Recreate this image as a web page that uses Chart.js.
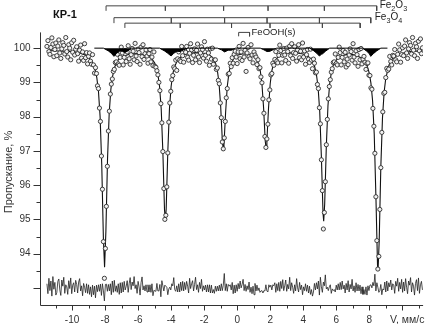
<!DOCTYPE html>
<html>
<head>
<meta charset="utf-8">
<script src="https://cdn.jsdelivr.net/npm/chart.js@4.4.1/dist/chart.umd.min.js"></script>
<style>
  html, body { margin: 0; padding: 0; background: #fff; }
  #wrap { width: 428px; height: 324px; position: relative; }
</style>
</head>
<body>
<div id="wrap"><canvas id="spectrum"></canvas></div>
<script>
// Channel calibration of the spectrometer (mm/s)
const velStart = -11.52;
const velStep = 0.06;

// Measured transmission, %, one value per channel
const transmission = [
  100.05, 100.22, 99.90, 99.82, 100.02, 100.30, 100.12, 99.75, 99.96, 100.15,
  99.78, 100.06, 100.24, 99.86, 99.70, 99.98, 100.16, 100.08, 99.83, 100.31,
  99.90, 99.74, 100.10, 100.00, 99.66, 100.16, 99.88, 100.23, 99.80, 99.97,
  100.04, 99.84, 99.62, 99.94, 100.09, 99.71, 99.89, 99.64, 100.13, 99.72,
  99.87, 99.54, 99.76, 99.86, 99.62, 99.53, 99.81, 99.51, 99.27, 99.43,
  99.26, 98.90, 98.82, 98.25, 97.86, 96.85, 95.88, 94.35, 93.28, 94.15,
  95.38, 96.55, 97.58, 98.16, 98.66, 98.95, 99.10, 99.32, 99.38, 99.58,
  99.60, 99.82, 99.54, 99.50, 99.73, 100.03, 99.86, 99.51, 99.73, 99.93,
  99.61, 99.89, 100.07, 99.69, 99.53, 99.81, 99.99, 99.91, 99.66, 100.14,
  99.77, 99.61, 99.97, 99.87, 99.53, 100.03, 99.75, 100.10, 99.67, 99.84,
  99.95, 99.77, 99.56, 99.84, 99.96, 99.60, 99.74, 99.49, 99.89, 99.47,
  99.44, 99.34, 99.22, 99.00, 98.76, 98.38, 97.82, 96.98, 95.90, 95.00,
  95.12, 95.95, 96.94, 97.84, 98.40, 98.74, 99.08, 99.20, 99.45, 99.40,
  99.65, 99.35, 99.69, 99.89, 99.65, 99.61, 100.05, 99.78, 99.59, 99.94,
  99.88, 100.05, 99.73, 99.65, 99.85, 100.13, 99.95, 99.58, 99.79, 99.98,
  99.66, 99.94, 100.12, 99.74, 99.58, 99.86, 100.04, 99.96, 99.71, 100.19,
  99.79, 99.62, 99.97, 99.86, 99.50, 99.98, 99.68, 100.00, 99.53, 99.65,
  99.66, 99.38, 99.42, 99.06, 98.96, 98.40, 97.97, 97.26, 97.06, 97.38,
  97.86, 98.55, 98.82, 99.24, 99.26, 99.56, 99.46, 99.72, 99.56, 99.82,
  99.91, 99.74, 99.55, 99.89, 100.05, 99.69, 99.89, 99.64, 100.14, 99.74,
  99.94, 99.32, 99.86, 100.02, 99.75, 99.69, 100.10, 99.80, 99.57, 99.89,
  99.80, 99.74, 99.52, 99.66, 99.40, 99.43, 99.16, 98.99, 98.52, 98.10,
  97.42, 97.10, 97.35, 97.78, 98.49, 98.78, 99.22, 99.26, 99.56, 99.50,
  99.67, 99.90, 99.62, 99.57, 99.79, 100.09, 99.93, 99.57, 99.79, 99.99,
  99.80, 99.64, 100.00, 99.90, 99.56, 100.06, 99.78, 100.13, 99.70, 99.87,
  100.04, 99.85, 99.62, 99.95, 100.10, 99.72, 99.91, 99.66, 100.15, 99.74,
  99.92, 99.53, 99.81, 99.96, 99.68, 99.58, 99.97, 99.65, 99.40, 99.68,
  99.56, 99.28, 99.30, 98.94, 98.82, 98.26, 97.79, 96.74, 95.84, 94.72,
  95.20, 96.10, 97.18, 97.92, 98.52, 98.88, 99.08, 99.30, 99.40, 99.58,
  99.60, 99.83, 99.55, 99.51, 99.73, 100.03, 99.87, 99.51, 99.73, 99.93,
  99.60, 99.88, 99.45, 99.68, 99.52, 99.80, 99.98, 99.90, 99.65, 100.13,
  99.74, 99.57, 99.92, 99.81, 99.47, 99.96, 99.66, 99.99, 99.54, 99.68,
  99.76, 99.59, 99.38, 99.55, 99.57, 99.21, 99.20, 98.84, 98.80, 98.24,
  97.72, 96.93, 95.66, 94.38, 93.55, 93.92, 95.29, 96.51, 97.54, 98.14,
  98.68, 98.71, 99.14, 99.41, 99.35, 99.39, 99.76, 99.61, 99.51, 99.79,
  99.77, 99.96, 99.66, 99.60, 99.82, 100.12, 99.95, 99.59, 99.81, 100.01,
  99.78, 100.06, 100.24, 99.86, 99.70, 99.98, 100.16, 100.08, 99.83, 100.31,
  99.94, 99.78, 100.14, 100.04, 99.70, 100.20, 99.92, 100.27, 99.84, 100.01
];

// Residual (measured - fit), %, one value per channel
const residual = [
  0.12, -0.17, 0.28, -0.08, 0.20, -0.24, 0.33, -0.04, 0.16, -0.21,
  -0.13, 0.19, 0.26, -0.06, -0.22, 0.23, 0.05, 0.31, -0.16, 0.09,
  0.03, -0.19, 0.21, -0.02, 0.29, -0.17, 0.08, 0.15, -0.12, 0.22,
  0.10, -0.15, 0.17, 0.27, -0.09, 0.06, -0.23, 0.13, 0.02, -0.14,
  0.12, -0.16, 0.09, -0.19, 0.03, -0.26, 0.08, -0.20, 0.05, -0.29,
  0.08, -0.11, 0.09, -0.10, 0.11, -0.22, 0.12, -0.09, -0.38, 0.10,
  0.11, -0.10, 0.10, -0.09, 0.12, -0.20, 0.20, -0.13, 0.22, -0.10,
  0.06, -0.13, 0.12, -0.19, 0.15, -0.15, 0.16, -0.12, 0.19, -0.06,
  0.05, 0.21, -0.13, 0.12, 0.30, -0.05, 0.17, 0.06, 0.33, -0.02,
  0.09, -0.16, 0.19, 0.03, -0.21, 0.15, 0.32, -0.06, 0.06, -0.09,
  0.09, -0.12, 0.09, -0.12, 0.09, -0.13, 0.12, -0.23, -0.07, -0.09,
  -0.10, 0.13, -0.09, -0.09, 0.10, -0.26, 0.21, 0.06, -0.09, 0.08,
  0.05, 0.02, -0.20, -0.03, 0.02, -0.06, 0.12, 0.06, 0.30, -0.05,
  -0.10, 0.06, -0.12, 0.12, -0.12, 0.17, -0.08, 0.19, -0.09, 0.16,
  -0.05, 0.19, 0.05, -0.15, 0.28, -0.02, 0.12, 0.21, -0.09, 0.10,
  0.31, -0.05, 0.09, -0.13, 0.16, -0.02, 0.25, -0.10, 0.06, -0.06,
  0.08, -0.12, 0.09, -0.12, 0.09, -0.15, 0.08, -0.15, -0.05, -0.16,
  0.05, -0.10, 0.05, -0.09, 0.08, -0.09, 0.12, -0.08, 0.08, 0.42,
  -0.08, 0.12, -0.10, 0.10, 0.05, 0.09, -0.06, 0.16, -0.17, 0.08,
  -0.15, 0.09, -0.10, 0.13, -0.03, 0.20, 0.00, 0.10, 0.25, -0.08,
  0.10, -0.10, 0.06, -0.05, 0.17, -0.13, 0.02, -0.17, 0.05, -0.20,
  0.13, -0.09, 0.08, -0.08, 0.00, -0.13, -0.09, -0.08, -0.15, -0.08,
  -0.09, 0.09, -0.09, -0.12, 0.09, 0.02, 0.08, -0.06, 0.09, 0.06,
  0.15, -0.13, 0.12, -0.08, 0.16, -0.10, 0.19, -0.02, 0.24, -0.08,
  0.06, 0.23, -0.10, 0.10, -0.03, 0.31, -0.08, 0.15, 0.02, -0.16,
  0.09, -0.09, 0.27, 0.00, -0.12, 0.16, -0.05, 0.08, -0.20, 0.03,
  -0.08, 0.12, -0.10, 0.08, -0.15, 0.05, -0.19, -0.05, -0.24, -0.12,
  0.13, -0.06, 0.15, -0.03, 0.20, -0.21, 0.31, 0.03, -0.13, 0.17,
  0.06, 0.38, -0.03, 0.02, -0.08, 0.03, 0.09, -0.16, -0.03, -0.08,
  -0.05, -0.12, 0.08, -0.06, 0.12, -0.06, 0.16, -0.05, 0.20, -0.03,
  0.08, -0.15, 0.13, -0.06, 0.21, -0.12, 0.10, -0.03, 0.25, -0.09,
  0.06, -0.13, 0.15, -0.09, 0.10, -0.09, 0.08, -0.17, 0.03, -0.19,
  -0.05, -0.19, 0.03, -0.21, 0.06, -0.08, 0.08, 0.09, 0.00, 0.16,
  0.06, 0.40, -0.09, 0.15, 0.02, -0.13, -0.08, 0.10, -0.20, -0.03,
  -0.06, 0.17, -0.12, 0.20, -0.09, 0.15, 0.03, 0.23, -0.06, 0.12,
  0.08, -0.16, 0.19, 0.05, 0.28, -0.10, 0.16, -0.03, 0.25, -0.13,
  0.17, -0.09, 0.27, 0.02, -0.17, 0.20, 0.08, 0.30, -0.12, 0.15,
  0.05, -0.21, 0.13, 0.24, -0.08, 0.29, -0.16, 0.09, 0.19, -0.06
];

// Fitted envelope
const fitVel = [
  -11.52, -10.5, -10.0, -9.5, -9.2, -9.0, -8.8, -8.6, -8.5, -8.4, -8.3, -8.2, -8.1, -8.03, -7.95,
  -7.85, -7.75, -7.65, -7.55, -7.4, -7.2, -7.0, -6.5, -6.0, -5.5, -5.2, -5.0, -4.9, -4.8, -4.7,
  -4.6, -4.5, -4.4, -4.35, -4.3, -4.2, -4.1, -4.0, -3.9, -3.8, -3.6, -3.3, -3.0, -2.5, -2.0,
  -1.7, -1.5, -1.4, -1.3, -1.2, -1.1, -1.0, -0.9, -0.84, -0.8, -0.7, -0.6, -0.5, -0.4, -0.2,
  0.0, 0.3, 0.6, 0.9, 1.1, 1.2, 1.3, 1.4, 1.5, 1.6, 1.7, 1.75, 1.8, 1.9, 2.0,
  2.1, 2.2, 2.4, 2.7, 3.0, 3.5, 4.0, 4.3, 4.5, 4.6, 4.7, 4.8, 4.9, 5.0, 5.1,
  5.2, 5.24, 5.3, 5.4, 5.5, 5.6, 5.7, 5.8, 6.0, 6.3, 6.6, 7.0, 7.3, 7.6, 7.8,
  7.9, 8.0, 8.1, 8.2, 8.3, 8.4, 8.5, 8.53, 8.6, 8.7, 8.8, 8.9, 9.0, 9.2, 9.4,
  9.7, 10.0, 10.5, 11.0, 11.22
];
const fitTrans = [
  99.93, 99.91, 99.90, 99.85, 99.80, 99.74, 99.62, 99.37, 99.14, 98.74, 98.00, 96.59, 94.43, 93.60, 94.65,
  96.77, 98.09, 98.79, 99.17, 99.47, 99.66, 99.74, 99.83, 99.84, 99.80, 99.71, 99.57, 99.45, 99.24, 98.88,
  98.23, 96.98, 95.29, 94.95, 95.29, 96.98, 98.23, 98.88, 99.24, 99.45, 99.66, 99.79, 99.84, 99.87, 99.85,
  99.81, 99.73, 99.66, 99.55, 99.35, 98.99, 98.31, 97.32, 97.03, 97.17, 98.12, 98.88, 99.27, 99.50, 99.71,
  99.79, 99.83, 99.83, 99.79, 99.72, 99.65, 99.54, 99.34, 98.96, 98.26, 97.29, 97.08, 97.29, 98.26, 98.96,
  99.34, 99.54, 99.70, 99.82, 99.86, 99.87, 99.83, 99.76, 99.66, 99.57, 99.45, 99.23, 98.86, 98.15, 96.83,
  95.18, 94.95, 95.45, 97.15, 98.33, 98.95, 99.28, 99.48, 99.65, 99.77, 99.81, 99.81, 99.77, 99.69, 99.56,
  99.44, 99.27, 98.98, 98.47, 97.50, 95.71, 93.67, 93.50, 94.35, 96.54, 97.96, 98.72, 99.12, 99.52, 99.69,
  99.80, 99.85, 99.90, 99.92, 99.92
];

// Filled minor (Fe3O4) component
const compVel = [
  -8.65, -8.1, -7.8, -7.62, -7.46, -7.3, -7.1, -6.95, -6.8, -6.65, -6.4, -4.7, -4.4, -4.2, -4.0, -3.84,
  -3.65, -3.45, -3.25, -3.0, -1.2, -0.95, -0.76, -0.55, -0.34, -0.1, 1.4, 1.62, 1.81, 1.99, 2.2, 2.4,
  4.4, 4.65, 4.82, 4.98, 5.1, 5.16, 5.35, 5.6, 7.6, 7.85, 8.0, 8.09, 8.25, 8.45, 8.7, 9.1
];
const compTrans = [
  100, 100, 99.92, 99.85, 99.76, 99.85, 99.92, 99.91, 99.88, 99.91, 100, 100, 99.92, 99.85, 99.77, 99.85,
  99.91, 99.90, 99.95, 100, 100, 99.95, 99.89, 99.94, 99.94, 100, 100, 99.95, 99.90, 99.91, 99.96, 100,
  100, 99.92, 99.85, 99.77, 99.82, 99.83, 99.91, 100, 100, 99.91, 99.84, 99.76, 99.84, 99.92, 100, 100
];

// Line positions of the stick diagrams (mm/s)
const fe2o3Lines = [-7.94, -4.35, -0.82, 1.87, 5.28, 8.45];
const fe3o4ALines = [-7.46, -3.99, -0.76, 1.81, 4.98, 8.09];
const fe3o4BLines = [-6.80, -3.45, -0.34, 1.99, 5.16, 7.45];
const feoohLines = [0.09, 0.75];

// Axis labels
const xTickLabels = [-10, -8, -6, -4, -2, 0, 2, 4, 6, 8];
const yTickLabels = [94, 95, 96, 97, 98, 99, 100];

const residBase = 93.0;
const yAxisTop = 100.46;
const FONT = '"Liberation Sans", Arial, sans-serif';

const expPts = transmission.map((t, i) => ({ x: velStart + i * velStep, y: t }));
const residPts = residual.map((r, i) => ({ x: velStart + i * velStep, y: residBase + r }));
const fitPts = fitVel.map((v, i) => ({ x: v, y: fitTrans[i] }));
const compPts = compVel.map((v, i) => ({ x: v, y: compTrans[i] }));

// comb shaped path for a stick diagram row
function comb(lines, top, bottom) {
    const pts = [];
    lines.forEach((v, i) => {
        if (i === 0) pts.push({ x: v, y: bottom });
        pts.push({ x: v, y: top });
        if (i > 0) {
            pts.push({ x: v, y: bottom });
            if (i < lines.length - 1) pts.push({ x: v, y: top });
        }
    });
    return pts;
}

function stickSet(pts) {
    return {
        data: pts, borderColor: '#444', borderWidth: 1, pointRadius: 0,
        fill: false, tension: 0
    };
}

// formula text with numeric subscripts
function drawFormula(ctx, text, x, y, size) {
    let cx = x;
    for (const ch of text) {
        const sub = /[0-9]/.test(ch);
        ctx.font = (sub ? size * 0.72 : size) + 'px ' + FONT;
        ctx.fillText(ch, cx, sub ? y + 2.5 : y);
        cx += ctx.measureText(ch).width;
    }
}

const axesPlugin = {
    id: 'axesPlugin',
    afterDraw(chart) {
        const { ctx, chartArea, scales: { x, y } } = chart;
        ctx.save();
        ctx.strokeStyle = '#333';
        ctx.lineWidth = 1;
        const ax = Math.round(chartArea.left) + 0.5;
        const ay = Math.round(chartArea.bottom) + 0.5;

        ctx.beginPath();
        ctx.moveTo(ax, y.getPixelForValue(yAxisTop));
        ctx.lineTo(ax, ay);
        ctx.lineTo(chartArea.right, ay);
        // y ticks
        for (let v = 93; v <= 100.001; v += 0.5) {
            const py = Math.round(y.getPixelForValue(v)) + 0.5;
            const len = Number.isInteger(v) ? 7 : 4;
            ctx.moveTo(ax - len, py);
            ctx.lineTo(ax, py);
        }
        // x ticks
        for (let v = -11; v <= 11; v += 1) {
            const px = Math.round(x.getPixelForValue(v)) + 0.5;
            const len = v % 2 === 0 ? 5 : 3;
            ctx.moveTo(px, ay);
            ctx.lineTo(px, ay + len);
        }
        ctx.stroke();

        ctx.fillStyle = '#333';
        ctx.font = '10px ' + FONT;
        ctx.textAlign = 'right';
        ctx.textBaseline = 'middle';
        yTickLabels.forEach(v => ctx.fillText(String(v), ax - 10, y.getPixelForValue(v)));

        ctx.textAlign = 'center';
        ctx.textBaseline = 'alphabetic';
        xTickLabels.forEach(v => {
            const s = v < 0 ? '-' + Math.abs(v) : String(v);
            ctx.fillText(s, x.getPixelForValue(v), 323);
        });
        ctx.textAlign = 'left';
        ctx.font = '10.5px ' + FONT;
        ctx.fillText('V, мм/с', 390, 323);

        // y axis title
        ctx.save();
        ctx.translate(9, 172);
        ctx.rotate(-Math.PI / 2);
        ctx.textAlign = 'center';
        ctx.textBaseline = 'middle';
        ctx.font = '11px ' + FONT;
        ctx.fillText('Пропускание, %', 0, 0);
        ctx.restore();

        // sample name
        ctx.fillStyle = '#111';
        ctx.textAlign = 'left';
        ctx.font = 'bold 11px ' + FONT;
        ctx.fillText('КР-1', 53, 18);

        // phase labels
        ctx.fillStyle = '#222';
        drawFormula(ctx, 'Fe2O3', x.getPixelForValue(fe2o3Lines[5]) + 3, 8, 10);
        drawFormula(ctx, 'Fe3O4', x.getPixelForValue(fe3o4ALines[5]) + 4, 20, 10);
        ctx.font = '9.5px ' + FONT;
        ctx.fillText('FeOOH(s)', x.getPixelForValue(feoohLines[1]) + 2, 35);
        ctx.restore();
    }
};

new Chart(document.getElementById('spectrum'), {
    type: 'line',
    data: {
        datasets: [
            {
                data: compPts, borderColor: '#000', borderWidth: 1, backgroundColor: '#000',
                fill: { value: 100 }, pointRadius: 0, tension: 0
            },
            {
                data: expPts, showLine: false, pointRadius: 2.1, pointBorderWidth: 0.9,
                pointBorderColor: '#2e2e2e', pointBackgroundColor: '#f2f2f2'
            },
            {
                data: fitPts, borderColor: '#111', borderWidth: 1.1, pointRadius: 0, tension: 0
            },
            {
                data: residPts, borderColor: '#222', borderWidth: 0.8, pointRadius: 0, tension: 0
            },
            stickSet(comb(fe2o3Lines, 101.235, 101.09)),
            stickSet(comb(fe3o4ALines, 100.89, 100.73)),
            stickSet(comb(fe3o4BLines, 100.73, 100.59)),
            stickSet(comb(feoohLines, 100.46, 100.345))
        ]
    },
    options: {
        responsive: true,
        maintainAspectRatio: false,
        animation: false,
        devicePixelRatio: 1,
        layout: { padding: { left: 40, right: 0, top: 0, bottom: 19 } },
        plugins: { legend: { display: false }, tooltip: { enabled: false } },
        scales: {
            x: { type: 'linear', min: -11.94, max: 11.26, display: false },
            y: { type: 'linear', min: 92.5, max: 101.263, display: false }
        }
    },
    plugins: [axesPlugin]
});
</script>
</body>
</html>
